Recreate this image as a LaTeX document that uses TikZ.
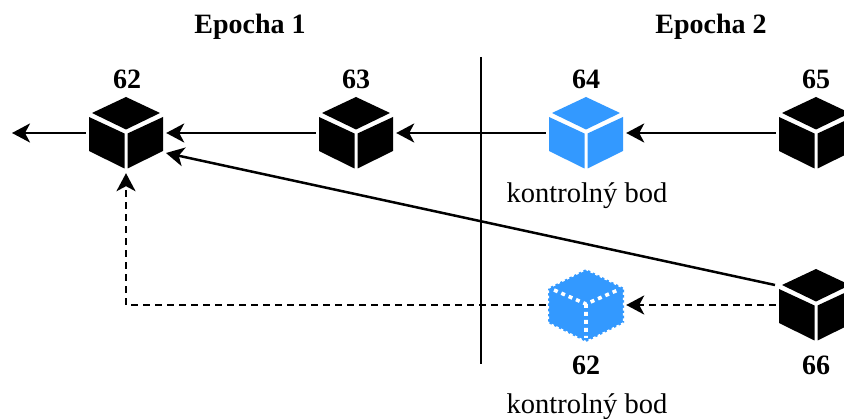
\documentclass[tikz,border=0pt]{standalone}
\usepackage{fontspec}
\setmainfont{Liberation Serif}
\usetikzlibrary{arrows.meta}
\definecolor{cubeblue}{HTML}{3399FF}
\tikzset{
  x=1pt,y=-1pt,
  cubeslot/.style={inner sep=0pt,minimum width=80pt,minimum height=80pt},
  link/.style={line width=2.5pt,-{Stealth[length=18pt,width=19pt,inset=5pt]}},
  dashlink/.style={link,dash pattern=on 7pt off 5pt},
  heading/.style={font=\fontsize{28}{30}\selectfont\bfseries,inner sep=0pt},
  caption/.style={font=\fontsize{28.5}{30}\selectfont,inner sep=0pt},
  divider/.style={line width=2.5pt},
  pics/solidcube/.style={code={
    \fill[#1] (0,-36) -- (34,-20) -- (0,-3.5) -- (-34,-20) -- cycle;
    \fill[#1] (-37,-16) -- (-1.5,0.5) -- (-1.5,35.5) -- (-37,18) -- cycle;
    \fill[#1] (1.5,0.5) -- (37,-16) -- (37,18) -- (1.5,35.5) -- cycle;
  }},
  pics/dottedcube/.style={code={
    \fill[#1] (0,-36) -- (38,-17) -- (38,18) -- (0,37) -- (-38,18) -- (-38,-17) -- cycle;
    \draw[white,line width=2.2pt,dash pattern=on 2.6pt off 2.6pt]
      (0,-36) -- (38,-17) -- (38,18) -- (0,37) -- (-38,18) -- (-38,-17) -- cycle;
    \draw[white,line width=3.6pt,dash pattern=on 4pt off 4pt]
      (-32,-15) -- (0,-1) -- (32,-15) (0,-1) -- (0,33);
  }}
}
\begin{document}
\begin{tikzpicture}
\clip (0,0) rectangle (844,419);
% cubes
\node[cubeslot] (c62) at (126,133) {};
\node[cubeslot] (c63) at (356,133) {};
\node[cubeslot] (c64) at (586,133) {};
\node[cubeslot] (c65) at (816,133) {};
\node[cubeslot] (c66) at (816,305) {};
\node[cubeslot] (k62) at (586,305) {};
\pic at (c62) {solidcube=black};
\pic at (c63) {solidcube=black};
\pic at (c64) {solidcube=cubeblue};
\pic at (c65) {solidcube=black};
\pic at (c66) {solidcube=black};
\pic at (k62) {dottedcube=cubeblue};
% free ends and helpers
\coordinate (out) at (12,133);
\coordinate (dtop) at (481,57);
\coordinate (dbot) at (481,364);
\coordinate (dstart) at (775,285);
\coordinate (dend) at (166,153);
\coordinate (corner) at (c62.south |- k62);
% divider
\draw[divider] (dtop) -- (dbot);
% connectors
\draw[link] (c62.west) -- (out);
\draw[link] (c63.west) -- (c62.east);
\draw[link] (c64.west) -- (c63.east);
\draw[link] (c65.west) -- (c64.east);
\draw[link] (dstart) -- (dend);
\draw[dashlink] (c66.west) -- (k62.east);
\draw[dashlink] (k62.west) -- (corner) -- (c62.south);
% labels
\node[heading] (e1) at (250,27) {Epocha 1};
\node[heading] (e2) at (711,27) {Epocha 2};
\node[heading] (t62) at (127,79) {62};
\node[heading] (t63) at (356,79) {63};
\node[heading] (t64) at (586,79) {64};
\node[heading] (t65) at (816,79) {65};
\node[heading] (b62) at (586,365) {62};
\node[heading] (b66) at (816,365) {66};
\node[caption] (k1) at (587,196) {kontrolný bod};
\node[caption] (k2) at (587,407) {kontrolný bod};
\end{tikzpicture}
\end{document}
